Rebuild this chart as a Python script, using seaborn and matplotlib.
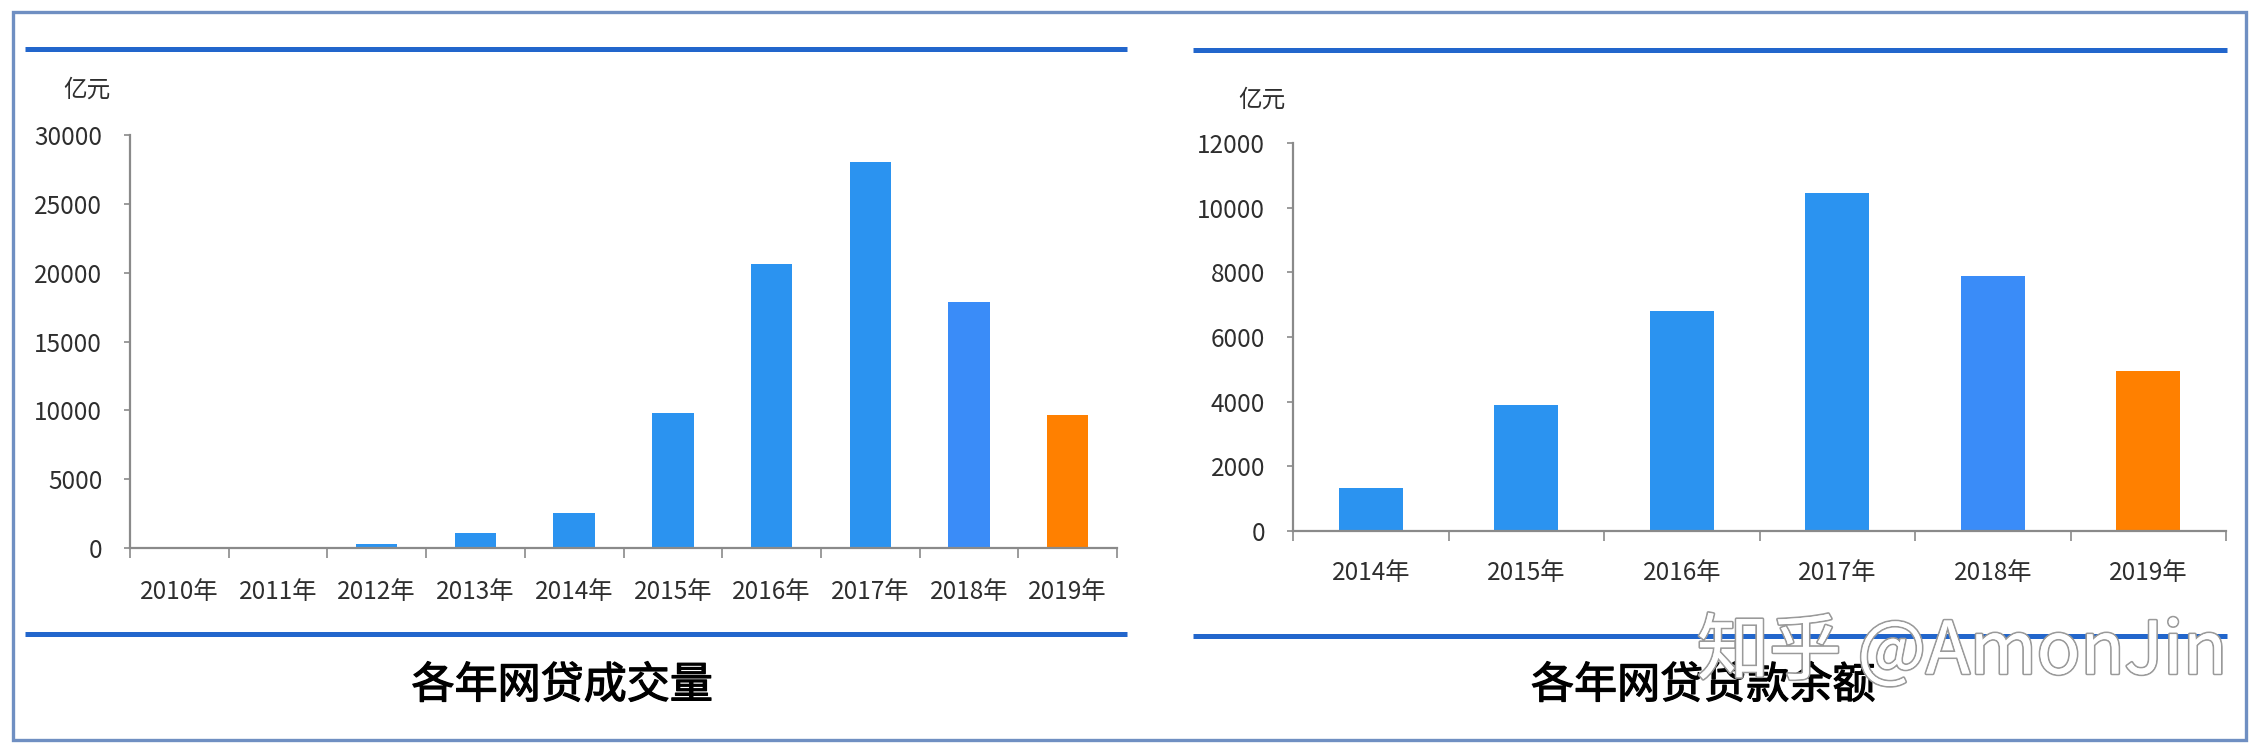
import matplotlib
matplotlib.use("Agg")
import matplotlib.pyplot as plt
from matplotlib.lines import Line2D
from matplotlib.patches import Rectangle
import matplotlib.patheffects as pe
import seaborn as sns
import pandas as pd
import numpy as np

# ---- data ----
years_volume = ["2010年", "2011年", "2012年", "2013年", "2014年",
                "2015年", "2016年", "2017年", "2018年", "2019年"]
volume = [100, 100, 300, 1100, 2550, 9820, 20640, 28050, 17900, 9650]

years_balance = ["2014年", "2015年", "2016年", "2017年", "2018年", "2019年"]
balance = [1320, 3900, 6810, 10440, 7880, 4940]

unit_label = "亿元"
title_left = "各年网贷成交量"
title_right = "各年网贷贷款余额"
watermark = "知乎 @AmonJin"

BLUE = "#2B93F0"
BLUE18 = "#3A8CF8"
ORANGE = "#FF8000"

def palette_for(cats):
    pal = {}
    for c in cats:
        if c.startswith("2019"):
            pal[c] = ORANGE
        elif c.startswith("2018"):
            pal[c] = BLUE18
        else:
            pal[c] = BLUE
    return pal

sns.set_theme(style="white")
plt.rcParams["font.family"] = ["Noto Sans CJK SC", "DejaVu Sans"]

W, H = 2268, 746
fig = plt.figure(figsize=(W / 100, H / 100), dpi=100)
fig.patch.set_facecolor("white")

def fx(x):
    return x / W

def fy(y):
    return 1 - y / H

ax1 = fig.add_axes([fx(130), fy(548), (1117 - 130) / W, (548 - 135) / H])
ax2 = fig.add_axes([fx(1293), fy(531), (2226 - 1293) / W, (531 - 143) / H])

df1 = pd.DataFrame({"year": years_volume, "value": volume})
df2 = pd.DataFrame({"year": years_balance, "value": balance})

sns.barplot(data=df1, x="year", y="value", hue="year", palette=palette_for(years_volume),
            width=0.42, legend=False, ax=ax1, saturation=1, edgecolor="none")
sns.barplot(data=df2, x="year", y="value", hue="year", palette=palette_for(years_balance),
            width=0.41, legend=False, ax=ax2, saturation=1, edgecolor="none")

AXC = "#8a8a8a"
TXT = "#2e2e2e"
for ax, n, ymax, step, pad_x in [(ax1, len(years_volume), 30000, 5000, 22),
                                 (ax2, len(years_balance), 12000, 2000, 21)]:
    ax.set_xlim(-0.5, n - 0.5)
    ax.set_ylim(0, ymax)
    ax.set_yticks(np.arange(0, ymax + 1, step))
    ax.set_xlabel("")
    ax.set_ylabel("")
    for s in ["top", "right"]:
        ax.spines[s].set_visible(False)
    for s in ["left", "bottom"]:
        ax.spines[s].set_color(AXC)
        ax.spines[s].set_linewidth(1.6)
    ax.tick_params(axis="y", which="major", left=True, length=4, width=1.2, color=AXC,
                   labelsize=17.5, labelcolor=TXT, pad=16)
    ax.set_xticks(np.arange(-0.5, n, 1.0), minor=True)
    ax.tick_params(axis="x", which="minor", bottom=True, length=7, width=1.2, color=AXC,
                   direction="out")
    ax.tick_params(axis="x", which="major", bottom=False, length=0,
                   labelsize=17.5, labelcolor=TXT, pad=pad_x)
    ax.grid(False)
    ax.set_facecolor("none")

# unit labels
fig.text(fx(87), fy(90), unit_label, ha="center", va="center", fontsize=17, color=TXT)
fig.text(fx(1262), fy(100), unit_label, ha="center", va="center", fontsize=17, color=TXT)

# outer frame
fig.add_artist(Rectangle((fx(13), fy(740)), (2246 - 13) / W, (740 - 12) / H,
                         transform=fig.transFigure, fill=False,
                         edgecolor="#6f8fc2", linewidth=2.4))

# blue rule lines
LINEC = "#2266CC"
for x0, x1, y in [(25, 1127, 49), (25, 1127, 634), (1193, 2227, 50), (1193, 2227, 636)]:
    fig.add_artist(Line2D([fx(x0), fx(x1)], [fy(y), fy(y)], transform=fig.transFigure,
                          color=LINEC, linewidth=3.6, solid_capstyle="butt"))

# titles (regular weight thickened slightly to imitate the heavier reference face)
title_fx = [pe.withStroke(linewidth=0.9, foreground="black")]
fig.text(fx(562), fy(686), title_left, ha="center", va="center", fontsize=31,
         color="black", path_effects=title_fx)
fig.text(fx(1703), fy(686), title_right, ha="center", va="center", fontsize=31,
         color="black", path_effects=title_fx)

# watermark
fig.text(fx(1962), fy(653), watermark, ha="center", va="center", fontsize=52,
         color="white", fontweight="light",
         path_effects=[pe.withStroke(linewidth=2.5, foreground="#9a9a9a"), pe.Normal()])

fig.savefig("out.png", dpi=100)
